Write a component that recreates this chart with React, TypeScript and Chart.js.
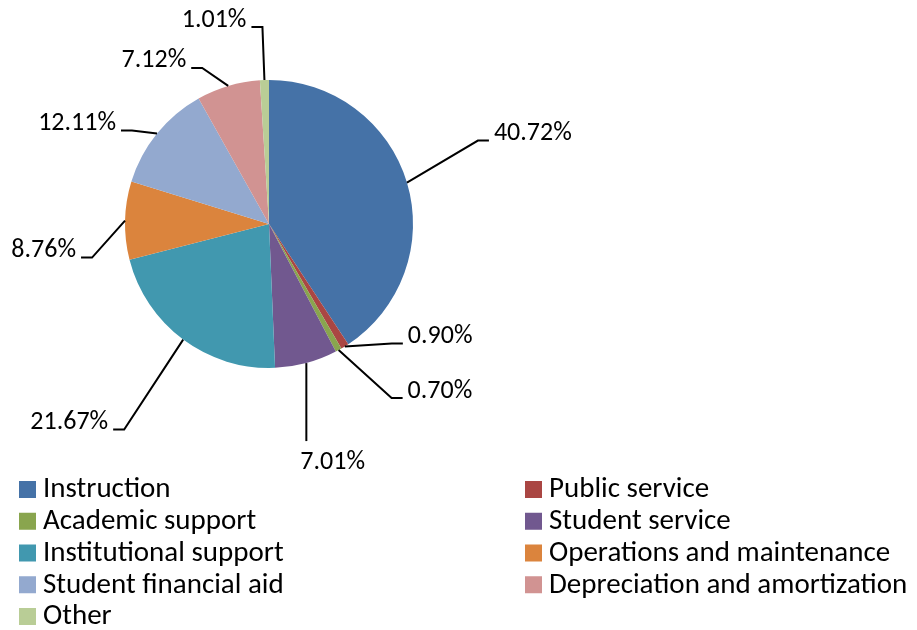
import React, { useEffect, useRef } from 'react';
import { Chart, registerables } from 'chart.js';

Chart.register(...registerables);

const categories = [
  'Instruction',
  'Public service',
  'Academic support',
  'Student service',
  'Institutional support',
  'Operations and maintenance',
  'Student financial aid',
  'Depreciation and amortization',
  'Other',
];
const shares = [40.72, 0.9, 0.7, 7.01, 21.67, 8.76, 12.11, 7.12, 1.01];
const valueLabels = ['40.72%', '0.90%', '0.70%', '7.01%', '21.67%', '8.76%', '12.11%', '7.12%', '1.01%'];
const colors = ['#4572A7', '#AA4643', '#89A54E', '#71588F', '#4198AF', '#DB843D', '#93A9CF', '#D19392', '#B9CD96'];

// label layout (styling): leader end offset from slice edge, and label side
const labelOffsets = [[82, -42], [58, -3], [64, 48], [0, 78], [-70, 90], [-44, 37], [-36, -3], [-37, -18], [-13, -53]];
const labelSides = ['r', 'r', 'r', 'b', 'l', 'l', 'l', 'l', 'l'];

const LABEL_FONT = '26px Carlito, Lato, sans-serif';
const LEGEND_FONT = '29px Carlito, Lato, sans-serif';

const labelPlugin = {
  id: 'leaderLabels',
  afterDatasetsDraw(chart: any) {
    const ctx = chart.ctx;
    const meta = chart.getDatasetMeta(0);
    ctx.save();
    ctx.font = LABEL_FONT;
    ctx.fillStyle = '#000';
    ctx.strokeStyle = '#000';
    ctx.lineWidth = 2;
    meta.data.forEach((arc: any, i: number) => {
      const p = arc.getProps(['x', 'y', 'startAngle', 'endAngle', 'outerRadius'], true);
      const mid = (p.startAngle + p.endAngle) / 2;
      const ax = p.x + Math.cos(mid) * p.outerRadius;
      const ay = p.y + Math.sin(mid) * p.outerRadius;
      const ex = ax + labelOffsets[i][0];
      const ey = ay + labelOffsets[i][1];
      const side = labelSides[i];
      ctx.beginPath();
      ctx.moveTo(ax, ay);
      if (side === 'r') {
        ctx.lineTo(ex - 11, ey);
        ctx.lineTo(ex, ey);
      } else if (side === 'l') {
        ctx.lineTo(ex + 11, ey);
        ctx.lineTo(ex, ey);
      } else {
        ctx.lineTo(ex, ey);
      }
      ctx.stroke();
      ctx.textBaseline = 'middle';
      if (side === 'r') {
        ctx.textAlign = 'left';
        ctx.fillText(valueLabels[i], ex + 5, ey - 7);
      } else if (side === 'l') {
        ctx.textAlign = 'right';
        ctx.fillText(valueLabels[i], ex - 5, ey - 7);
      } else {
        ctx.textAlign = 'left';
        ctx.fillText(valueLabels[i], ex - 6, ey + 21);
      }
    });
    ctx.restore();
  },
};

const legendPlugin = {
  id: 'twoColLegend',
  afterDraw(chart: any) {
    const ctx = chart.ctx;
    ctx.save();
    ctx.font = LEGEND_FONT;
    ctx.textAlign = 'left';
    ctx.textBaseline = 'middle';
    const colX = [19, 525];
    const y0 = 489;
    const pitch = 31.75;
    categories.forEach((name, i) => {
      const col = i % 2;
      const row = Math.floor(i / 2);
      const x = colX[col];
      const y = y0 + row * pitch;
      ctx.fillStyle = colors[i];
      ctx.fillRect(x, y - 8, 17, 17);
      ctx.fillStyle = '#000';
      ctx.fillText(name, x + 24, y + 1);
    });
    ctx.restore();
  },
};

export default function App() {
  const ref = useRef<HTMLCanvasElement>(null);
  useEffect(() => {
    if (!ref.current) return;
    const chart = new Chart(ref.current, {
      type: 'pie',
      data: {
        labels: categories,
        datasets: [
          {
            data: shares,
            backgroundColor: colors,
            borderWidth: 0,
          },
        ],
      },
      options: {
        responsive: false,
        maintainAspectRatio: false,
        animation: false,
        layout: { padding: { left: 125, right: 504, top: 80, bottom: 262 } },
        plugins: {
          legend: { display: false },
          tooltip: { enabled: false },
        },
      },
      plugins: [labelPlugin, legendPlugin],
    });
    return () => chart.destroy();
  }, []);
  return (
    <div style={{ position: 'fixed', left: 0, top: 0, width: 917, height: 630, background: '#fff' }}>
      <canvas ref={ref} width={917} height={630} />
    </div>
  );
}
